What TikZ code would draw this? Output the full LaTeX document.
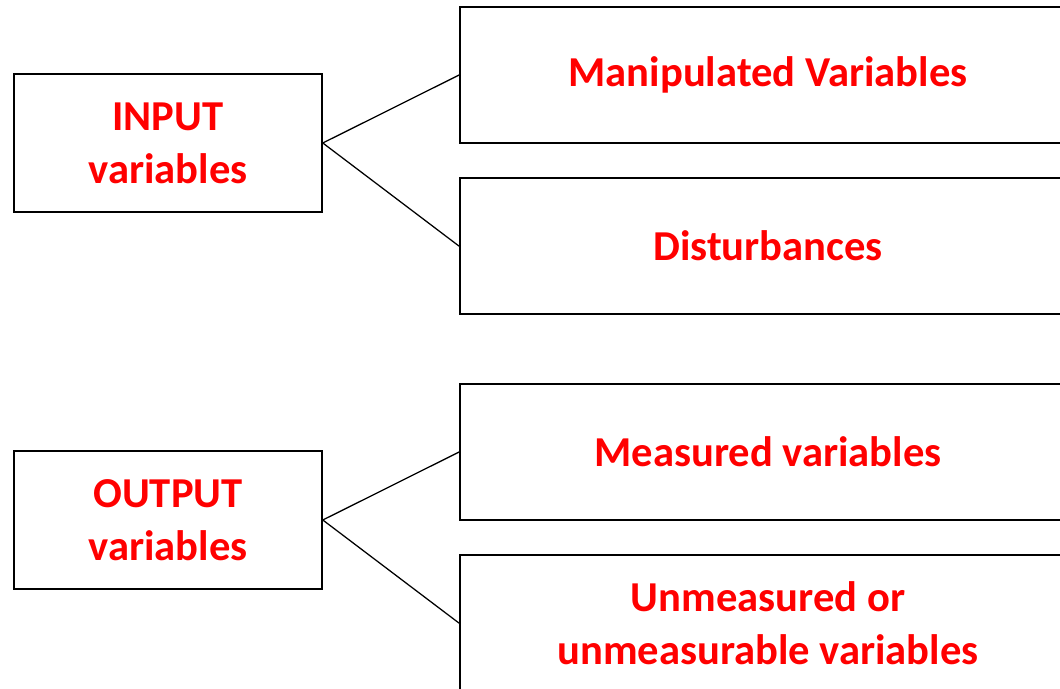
\documentclass[tikz,border=0pt]{standalone}
\usepackage{fontspec}
\setmainfont{Carlito}
\usetikzlibrary{positioning}
\tikzset{
	varbox/.style={rectangle, draw, line width=1.1pt, align=center, text=red,
		font=\bfseries\fontsize{30.3}{37.7}\selectfont},
	kind/.style={varbox, minimum width=7.7cm, minimum height=3.45cm},
	sub/.style={varbox, minimum width=15.4cm, minimum height=3.4cm},
	link/.style={draw, line width=0.9pt}
}
\begin{document}
\begin{tikzpicture}[x=0.025cm, y=-0.025cm]

\useasboundingbox (0,0) rectangle (1060,689);
\clip (0,0) rectangle (1060,689);

\node[kind] (input) at (168,143) {INPUT\\variables};

\node[sub] (manip) at (768,75) {Manipulated Variables};

\node[sub, below=0.84cm of manip] (dist) {Disturbances};

\node[kind] (output) at (168,520) {OUTPUT\\variables};

\node[sub] (meas) at (768,452) {Measured variables};

\node[sub, below=0.84cm of meas] (unmeas) {Unmeasured or\\unmeasurable variables};

\draw [link] (input.east) -- (manip.west);
\draw [link] (input.east) -- (dist.west);
\draw [link] (output.east) -- (meas.west);
\draw [link] (output.east) -- (unmeas.west);

\end{tikzpicture}
\end{document}
